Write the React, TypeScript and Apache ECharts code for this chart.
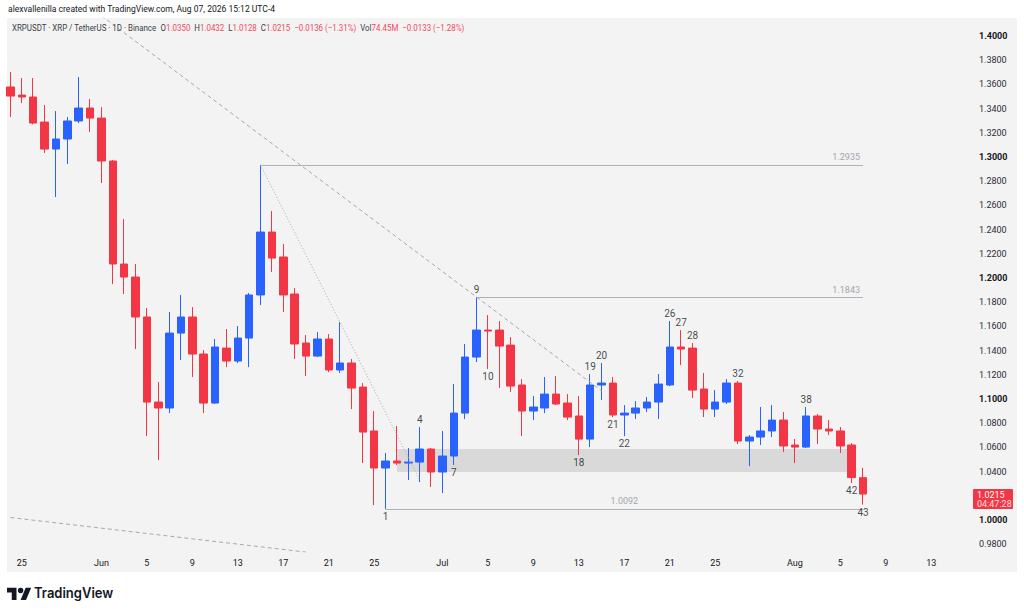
import React, { useEffect, useRef } from "react";
import * as echarts from "echarts";

const FONT = "Roboto, 'Noto Sans', sans-serif";
const BLUE = "#2962ff";
const RED = "#f23645";
const TEXT = "#131722";

// ---- categories (daily) ----
const MONTH_NAMES = ["May", "Jun", "Jul", "Aug"];
const MONTH_LENGTHS = [31, 30, 31, 31];
const FIRST_DAY = 24;
const DAY_COUNT = 85;
function buildCategories(): string[] {
  const out: string[] = [];
  let m = 0;
  let d = FIRST_DAY;
  for (let k = 0; k < DAY_COUNT; k++) {
    out.push(`${MONTH_NAMES[m]} ${d}`);
    d++;
    if (d > MONTH_LENGTHS[m]) {
      d = 1;
      m++;
    }
  }
  return out;
}
const categories = buildCategories();

// ---- OHLC (May 24 .. Aug 7) ----
const opens = [
  1.3579, 1.3512, 1.3496, 1.3289, 1.3066, 1.3149, 1.3298, 1.3405, 1.3322, 1.2967,
  1.2116, 1.2008, 1.1678, 1.0975, 1.0926, 1.1545, 1.1678, 1.1372, 1.0967, 1.1421,
  1.1314, 1.1504, 1.186, 1.238, 1.2174, 1.1868, 1.1463, 1.1355, 1.1496, 1.124,
  1.1298, 1.1099, 1.0736, 1.043, 1.0488, 1.0471, 1.0479, 1.0587, 1.0397, 1.0529,
  1.0884, 1.1347, 1.157, 1.157, 1.1446, 1.1116, 1.0901, 1.0926, 1.1041, 1.0967,
  1.086, 1.0669, 1.1116, 1.1132, 1.0868, 1.0884, 1.0926, 1.0975, 1.1116, 1.143,
  1.1421, 1.1083, 1.0917, 1.0975, 1.1132, 1.0653, 1.0686, 1.0736, 1.0826, 1.062,
  1.0603, 1.086, 1.0752, 1.0736, 1.062, 1.035,
];
const closes = [
  1.3504, 1.3496, 1.3281, 1.3066, 1.3149, 1.3298, 1.3405, 1.3322, 1.2967, 1.2116,
  1.2008, 1.1678, 1.0975, 1.0926, 1.1545, 1.1678, 1.1372, 1.0967, 1.143, 1.1314,
  1.1504, 1.186, 1.238, 1.2165, 1.186, 1.1455, 1.1355, 1.1496, 1.124, 1.1298,
  1.1091, 1.0727, 1.043, 1.0488, 1.0471, 1.0479, 1.0587, 1.0397, 1.0529, 1.0884,
  1.1347, 1.157, 1.1562, 1.1438, 1.1107, 1.0901, 1.0934, 1.1041, 1.0959, 1.0851,
  1.0669, 1.1116, 1.1132, 1.0868, 1.0884, 1.0926, 1.0975, 1.1124, 1.143, 1.1413,
  1.1074, 1.0917, 1.0975, 1.1132, 1.0653, 1.0686, 1.0736, 1.0826, 1.0612, 1.0603,
  1.086, 1.0752, 1.0736, 1.0612, 1.0351, 1.0215,
];
const highs = [
  1.3702, 1.3653, 1.3653, 1.343, 1.338, 1.3331, 1.3661, 1.3479, 1.3413, 1.2975,
  1.2488, 1.2116, 1.1752, 1.114, 1.1719, 1.186, 1.176, 1.1405, 1.1496, 1.1579,
  1.1603, 1.1876, 1.2935, 1.2554, 1.2281, 1.1917, 1.1529, 1.1554, 1.1537, 1.1636,
  1.1331, 1.1132, 1.0901, 1.0554, 1.0777, 1.0595, 1.0769, 1.0595, 1.0736, 1.1124,
  1.1455, 1.1843, 1.1694, 1.1645, 1.1512, 1.1165, 1.1025, 1.1182, 1.119, 1.1041,
  1.1025, 1.1207, 1.1298, 1.1182, 1.095, 1.0983, 1.1017, 1.1207, 1.1645, 1.157,
  1.1463, 1.1215, 1.1074, 1.1165, 1.1149, 1.0702, 1.0934, 1.095, 1.0893, 1.0669,
  1.0934, 1.0876, 1.0826, 1.0769, 1.0636, 1.0432,
];
const lows = [
  1.3331, 1.3446, 1.327, 1.3033, 1.2669, 1.2942, 1.3281, 1.3207, 1.2785, 1.195,
  1.1868, 1.1413, 1.0694, 1.0496, 1.0884, 1.1322, 1.1182, 1.0884, 1.096, 1.1264,
  1.1298, 1.1264, 1.1777, 1.205, 1.1719, 1.1331, 1.119, 1.1347, 1.1223, 1.1215,
  1.0917, 1.0471, 1.0124, 1.0092, 1.0455, 1.0331, 1.0314, 1.0273, 1.0223, 1.0455,
  1.0835, 1.1306, 1.1248, 1.1091, 1.1058, 1.0694, 1.0826, 1.0884, 1.095, 1.0826,
  1.0537, 1.0603, 1.0992, 1.0851, 1.0694, 1.0835, 1.0893, 1.0835, 1.1107, 1.1281,
  1.1008, 1.0851, 1.0851, 1.0959, 1.0628, 1.0446, 1.062, 1.0686, 1.0562, 1.0471,
  1.0595, 1.0628, 1.0702, 1.0554, 1.0306, 1.0128,
];

// ---- axis ticks ----
const xTickDates = [
  "May 25", "Jun 1", "Jun 5", "Jun 9", "Jun 13", "Jun 17", "Jun 21", "Jun 25",
  "Jul 1", "Jul 5", "Jul 9", "Jul 13", "Jul 17", "Jul 21", "Jul 25",
  "Aug 1", "Aug 5", "Aug 9", "Aug 13",
];
const xTickLabels = [
  "25", "Jun", "5", "9", "13", "17", "21", "25",
  "Jul", "5", "9", "13", "17", "21", "25",
  "Aug", "5", "9", "13",
];
const yTicks = [
  0.98, 1.0, 1.02, 1.04, 1.06, 1.08, 1.1, 1.12, 1.14, 1.16, 1.18,
  1.2, 1.22, 1.24, 1.26, 1.28, 1.3, 1.32, 1.34, 1.36, 1.38, 1.4,
];

// ---- annotations ----
const levelValues = [1.2935, 1.1843, 1.0092];
const levelStarts = ["Jun 15", "Jul 4", "Jun 26"];
const levelEnd = "Aug 7";
const levelLabelPos = ["insideEndTop", "insideEndTop", "insideMiddleTop"];

const zoneLow = 1.0397;
const zoneHigh = 1.0587;
const zoneStart = "Jun 27";
const zoneEnd = "Aug 6";

const trendDashed = [["Jun 1", 1.4168], ["Jul 15", 1.1068]];
const trendDotted = [["Jun 15", 1.2935], ["Jun 29", 1.0331]];
const trendLower = [["May 24", 1.0021], ["Jun 19", 0.9735]];

const waveNums = [1, 4, 7, 9, 10, 18, 19, 20, 21, 22, 26, 27, 28, 32, 38, 42, 43];
const waveSides = [
  "low", "high", "low", "high", "low", "low", "high", "high", "low", "low",
  "high", "high", "high", "high", "high", "low", "low",
];
const waveBaseIndex = 32; // wave n sits on candle index 32 + n

const volumeText = "74.45M";
const volumeChange = "\u22120.0133 (\u22121.28%)";
const countdown = "04:47:28";

const LOGO_PATH =
  "M14 22H7V11H0V4h14v18zM28 22h-8l7.5-18h8L28 22zM24 8a4 4 0 1 1 -8 0a4 4 0 1 1 8 0z";
try {
  echarts.graphic.registerShape("tvlogo", echarts.graphic.extendPath(LOGO_PATH, {}));
} catch (e) {}

function signed(v: number, digits: number): string {
  return (v < 0 ? "\u2212" : "+") + Math.abs(v).toFixed(digits);
}

function buildGraphic(priceY: number): any[] {
  const last = closes.length - 1;
  const chg = closes[last] - closes[last - 1];
  const pct = (chg / closes[last - 1]) * 100;
  const header =
    "{d|XRPUSDT \u00b7 XRP / TetherUS \u00b7 1D \u00b7 Binance}  " +
    `{d|O}{r|${opens[last].toFixed(4)}}  {d|H}{r|${highs[last].toFixed(4)}}  ` +
    `{d|L}{r|${lows[last].toFixed(4)}}  {d|C}{r|${closes[last].toFixed(4)}}  ` +
    `{r|${signed(chg, 4)} (${signed(pct, 2)}%)}  {d|Vol}{r|${volumeText}}  {r|${volumeChange}}`;
  return [
    {
      id: "panel",
      type: "rect",
      z: -10,
      shape: { x: 7, y: 18, width: 1010, height: 554 },
      style: { fill: "#f3f3f3" },
      silent: true,
    },
    {
      id: "credit",
      type: "text",
      x: 8,
      y: 9,
      scaleX: 0.95,
      style: {
        text: "alexvallenilla created with TradingView.com, Aug 07, 2026 15:12 UTC-4",
        fill: TEXT,
        font: `9px ${FONT}`,
        verticalAlign: "middle",
      },
      silent: true,
    },
    {
      id: "header",
      type: "text",
      x: 12,
      y: 28,
      z: 10,
      scaleX: 0.88,
      style: {
        text: header,
        font: `9px ${FONT}`,
        verticalAlign: "middle",
        rich: {
          d: { fill: "#3b3f4a", font: `9px ${FONT}` },
          r: { fill: "#ef4a5e", font: `9px ${FONT}` },
        },
      },
      silent: true,
    },
    {
      id: "logo",
      type: "tvlogo",
      x: 7,
      y: 585,
      scaleX: 0.68,
      scaleY: 0.68,
      style: { fill: TEXT },
      silent: true,
    },
    {
      id: "logoText",
      type: "text",
      x: 34,
      y: 593,
      scaleX: 0.93,
      style: {
        text: "TradingView",
        fill: TEXT,
        font: `600 14px Inter, ${FONT}`,
        verticalAlign: "middle",
      },
      silent: true,
    },
    {
      id: "priceBox",
      type: "rect",
      z: 20,
      shape: { x: 973, y: priceY - 5, width: 40, height: 20, r: 1 },
      style: { fill: RED },
      silent: true,
    },
    {
      id: "priceTxt",
      type: "text",
      z: 21,
      x: 977,
      y: priceY + 0.5,
      style: {
        text: closes[last].toFixed(4),
        fill: "#ffffff",
        font: `9px ${FONT}`,
        verticalAlign: "middle",
      },
      silent: true,
    },
    {
      id: "timerTxt",
      type: "text",
      z: 21,
      x: 977,
      y: priceY + 10,
      style: {
        text: countdown,
        fill: "rgba(255,255,255,0.85)",
        font: `9px ${FONT}`,
        verticalAlign: "middle",
      },
      silent: true,
    },
  ];
}

function buildOption(): any {
  const candleData = opens.map((o, i) => [o, closes[i], lows[i], highs[i]]);

  const levelLines = levelValues.map((v, k) => [
    {
      coord: [levelStarts[k], v],
      lineStyle: { color: "#aeb1b8", width: 1, type: "solid" },
      label: {
        show: true,
        position: levelLabelPos[k],
        formatter: v.toFixed(4),
        color: "#a3a6ac",
        fontSize: 9,
        fontFamily: FONT,
        distance: 3,
      },
    },
    { coord: [levelEnd, v] },
  ]);

  const waveData = waveNums.map((n, k) => {
    const idx = waveBaseIndex + n;
    const isHigh = waveSides[k] === "high";
    return {
      value: [categories[idx], isHigh ? highs[idx] : lows[idx], n],
      label: { position: isHigh ? "top" : "bottom" },
    };
  });

  return {
    animation: false,
    backgroundColor: "#ffffff",
    grid: {
      left: 4.8,
      top: 18,
      width: 966.2,
      height: 534,
      containLabel: false,
      outerBoundsMode: "none",
    },
    xAxis: {
      type: "category",
      data: categories,
      boundaryGap: true,
      axisLine: { show: false },
      axisTick: { show: false },
      splitLine: { show: false },
      axisLabel: {
        interval: (_i: number, v: string) => xTickDates.indexOf(v) >= 0,
        formatter: (v: string) => {
          const k = xTickDates.indexOf(v);
          return k >= 0 ? xTickLabels[k] : "";
        },
        margin: 6,
        color: TEXT,
        fontSize: 9,
        fontFamily: FONT,
      },
    },
    yAxis: {
      type: "value",
      position: "right",
      min: 0.9736,
      max: 1.4149,
      splitLine: { show: false },
      axisLine: { show: false },
      axisTick: { show: false },
      axisLabel: {
        customValues: yTicks,
        margin: 8,
        color: "#2a2e39",
        fontSize: 9,
        fontFamily: FONT,
        formatter: (v: number) => {
          const s = v.toFixed(4);
          const major = Math.abs(Math.round(v * 10) - v * 10) < 1e-6;
          return major ? `{b|${s}}` : s;
        },
        rich: {
          b: { fontWeight: "bold", color: TEXT, fontSize: 9, fontFamily: FONT },
        },
      },
    },
    series: [
      {
        type: "candlestick",
        data: candleData,
        barWidth: 8,
        z: 3,
        itemStyle: {
          color: BLUE,
          color0: RED,
          borderColor: BLUE,
          borderColor0: RED,
          borderWidth: 1,
        },
        markArea: {
          silent: true,
          itemStyle: { color: "#d9d9d9" },
          data: [[{ coord: [zoneStart, zoneHigh] }, { coord: [zoneEnd, zoneLow] }]],
        },
        markLine: {
          silent: true,
          symbol: ["none", "none"],
          data: levelLines,
        },
      },
      {
        type: "line",
        data: trendDashed,
        symbol: "none",
        silent: true,
        z: 4,
        lineStyle: { color: "#a5a8ae", width: 1, type: [4, 3] },
      },
      {
        type: "line",
        data: trendDotted,
        symbol: "none",
        silent: true,
        z: 4,
        lineStyle: { color: "#a5a8ae", width: 1, type: [1, 2] },
      },
      {
        type: "line",
        data: trendLower,
        symbol: "none",
        silent: true,
        z: 4,
        lineStyle: { color: "#a5a8ae", width: 1, type: [4, 3] },
      },
      {
        type: "scatter",
        data: waveData,
        symbolSize: 1,
        silent: true,
        z: 6,
        itemStyle: { color: "transparent" },
        label: {
          show: true,
          color: TEXT,
          fontSize: 10,
          fontFamily: FONT,
          distance: 2,
          formatter: (p: any) => String(p.value[2]),
        },
      },
    ],
    graphic: buildGraphic(494),
  };
}

export default function App() {
  const ref = useRef<HTMLDivElement>(null);
  useEffect(() => {
    if (!ref.current) return;
    const chart = echarts.init(ref.current, undefined, { renderer: "svg" });
    chart.setOption(buildOption());
    const py = chart.convertToPixel({ yAxisIndex: 0 }, closes[closes.length - 1]) as number;
    if (typeof py === "number" && isFinite(py)) {
      chart.setOption({ graphic: buildGraphic(py) });
    }
    return () => chart.dispose();
  }, []);
  return (
    <div
      ref={ref}
      style={{ position: "fixed", left: 0, top: 0, width: 1024, height: 612 }}
    />
  );
}
